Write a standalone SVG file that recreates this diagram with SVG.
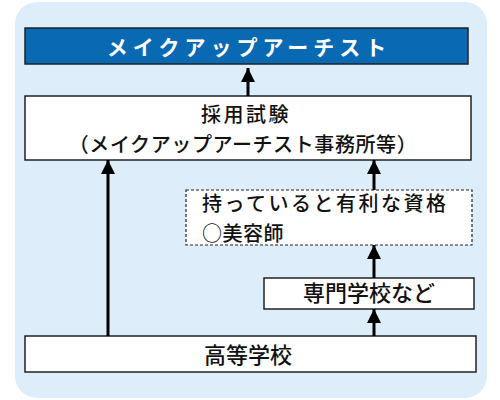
<svg xmlns="http://www.w3.org/2000/svg" width="500" height="400" viewBox="0 0 500 400">
<defs>
<marker id="ah" markerUnits="userSpaceOnUse" markerWidth="14" markerHeight="16" refX="14" refY="7" orient="auto">
<path d="M0,0 L14,7 L0,14 Z" fill="#000"/>
</marker>
<style>
.box{fill:#fff;stroke:#222;stroke-width:1.5}
.dash{fill:#fff;stroke:#222;stroke-width:1.2;stroke-dasharray:3 2}
.t{font-family:"Noto Sans CJK JP","Noto Sans",sans-serif;font-size:22px;font-weight:500;fill:#111}
.s{font-size:20px}
.c{text-anchor:middle}
.conn line{stroke:#000;stroke-width:3;marker-end:url(#ah)}
</style>
</defs>
<rect x="15" y="2" width="472" height="396" rx="22" fill="#ddeefa"/>
<g id="artist">
<rect x="25" y="28" width="443" height="36" fill="#0a69b3" stroke="#222" stroke-width="1.5"/>
<text x="249" y="55" class="t c" style="fill:#fff;font-weight:bold;font-size:21px;letter-spacing:5px">メイクアップアーチスト</text>
</g>
<g id="exam">
<rect x="25" y="96" width="446" height="64" class="box"/>
<text x="246" y="122" class="t c s" style="letter-spacing:2.5px">採用試験</text>
<text x="243" y="151.5" class="t c s" style="letter-spacing:0.6px">（メイクアップアーチスト事務所等）</text>
</g>
<g id="qual">
<rect x="186" y="190" width="286" height="55" class="dash"/>
<text x="202" y="211" class="t s" style="letter-spacing:2.5px">持っていると有利な資格</text>
<text x="202" y="240.5" class="t s" style="letter-spacing:0.5px">○美容師</text>
</g>
<g id="senmon">
<rect x="264" y="278" width="210" height="31" class="box"/>
<text x="369" y="301" class="t c">専門学校など</text>
</g>
<g id="high">
<rect x="25" y="336" width="451" height="36" class="box"/>
<text x="248" y="363" class="t c">高等学校</text>
</g>
<g class="conn" id="connectors">
<line x1="248" y1="96" x2="248" y2="68"/>
<line x1="108" y1="336" x2="108" y2="160"/>
<line x1="374" y1="190" x2="374" y2="160"/>
<line x1="374" y1="278" x2="374" y2="245"/>
<line x1="374" y1="336" x2="374" y2="309"/>
</g>
</svg>
